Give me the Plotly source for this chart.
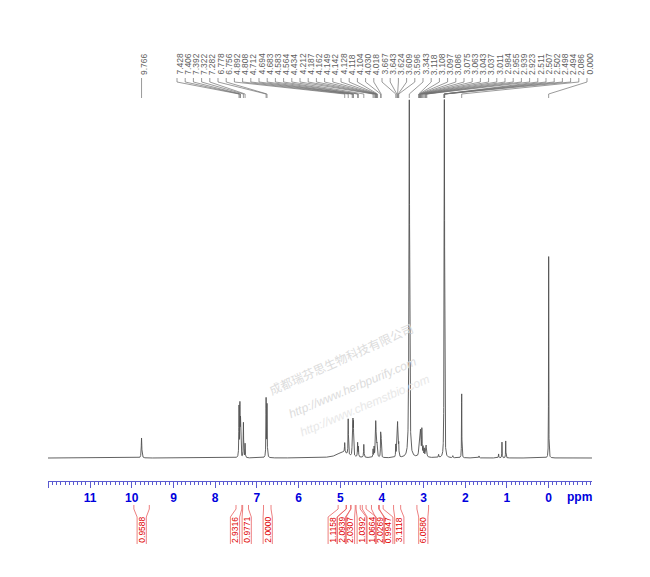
import numpy as np
import plotly.graph_objects as go

# ---------------- data ----------------
peak_labels = ["9.766", "7.428", "7.406", "7.392", "7.322", "7.282", "6.778", "6.756",
               "4.892", "4.808", "4.712", "4.694", "4.683", "4.583", "4.564", "4.434",
               "4.212", "4.187", "4.162", "4.149", "4.142", "4.128", "4.118", "4.104",
               "4.030", "4.018", "3.667", "3.643", "3.624", "3.609", "3.596", "3.343",
               "3.118", "3.108", "3.097", "3.086", "3.075", "3.063", "3.043", "3.037",
               "3.011", "2.984", "2.955", "2.939", "2.923", "2.511", "2.507", "2.502",
               "2.498", "2.494", "2.086", "0.000"]
peak_ppm = [9.766, 7.428, 7.406, 7.392, 7.322, 7.282, 6.778, 6.756,
            4.892, 4.808, 4.712, 4.694, 4.683, 4.583, 4.564, 4.434,
            4.212, 4.187, 4.162, 4.149, 4.142, 4.128, 4.118, 4.104,
            4.030, 4.018, 3.667, 3.643, 3.624, 3.609, 3.596, 3.343,
            3.118, 3.108, 3.097, 3.086, 3.075, 3.063, 3.043, 3.037,
            3.011, 2.984, 2.955, 2.939, 2.923, 2.511, 2.507, 2.502,
            2.498, 2.494, 2.086, 0.000]
peak_height = [20, 50, 50, 35, 35, 14, 58, 52,
               10, 36, 16, 32, 30, 14, 10, 13,
               8, 10, 12, 27, 20, 14, 10, 8,
               23, 18, 12, 24, 32, 20, 12, 358,
               6, 8, 10, 15, 20, 11, 19, 14,
               8, 7, 8, 10, 7, 40, 130, 228,
               130, 40, 64, 205]
peak_hwhm = [0.008, 0.005, 0.005, 0.005, 0.005, 0.005, 0.005, 0.005,
             0.006, 0.005, 0.005, 0.005, 0.005, 0.005, 0.005, 0.006,
             0.005, 0.005, 0.005, 0.005, 0.005, 0.005, 0.005, 0.005,
             0.005, 0.005, 0.005, 0.005, 0.005, 0.005, 0.005, 0.009,
             0.005, 0.005, 0.005, 0.005, 0.005, 0.005, 0.005, 0.005,
             0.005, 0.005, 0.005, 0.005, 0.005, 0.004, 0.004, 0.004,
             0.004, 0.004, 0.004, 0.003]

# unlabeled features (broad hump, small impurities)
extra_ppm = [4.95, 3.05, 2.64, 2.30, 1.67, 1.20, 1.12, 1.03]
extra_height = [6, 3, 3, 2, 2, 4, 16, 17]
extra_hwhm = [0.15, 0.08, 0.006, 0.006, 0.006, 0.005, 0.004, 0.004]

integral_values = ["0.9588", "2.9316", "0.9771", "2.0000", "1.1158", "2.0939", "2.0307",
                   "1.0392", "1.0664", "2.0269", "0.9947", "3.1118", "6.0580"]
integral_from = [9.95, 7.50, 7.34, 6.84, 5.05, 4.85, 4.74, 4.62, 4.47, 4.25, 4.06, 3.72, 3.16]
integral_to = [9.58, 7.36, 7.20, 6.66, 4.86, 4.75, 4.64, 4.52, 4.38, 4.08, 3.97, 3.55, 2.88]

tick_values = list(range(0, 13))
tick_labels = [str(v) if v < 12 else "" for v in tick_values]

# ---------------- layout geometry (screen px) ----------------
BODY = 8                      # default page margin around the figure
W, H = 650 - BODY, 577 - BODY
PX0, PX1 = 48, 592            # plot area left/right (screen px)
PY0, PY1 = 20, 481            # plot area top/bottom (screen px)
X_LEFT, X_RIGHT = 12.01, -1.04
BASE_PY = 458


def ppm_of_px(px):
    return X_LEFT + (px - PX0) / (PX1 - PX0) * (X_RIGHT - X_LEFT)


def px_of_ppm(p):
    return PX0 + (p - X_LEFT) / (X_RIGHT - X_LEFT) * (PX1 - PX0)


def y_of_py(py):
    return BASE_PY - py


def paper_x(px):
    return (px - PX0) / (PX1 - PX0)


def paper_y(py):
    return (PY1 - py) / (PY1 - PY0)


# ---------------- spectrum ----------------
x = np.arange(X_LEFT, X_RIGHT, -0.0008)
y = np.zeros_like(x)
for c, h, w in zip(peak_ppm + extra_ppm, peak_height + extra_height, peak_hwhm + extra_hwhm):
    y += h / (1.0 + ((x - c) / w) ** 2)

fig = go.Figure()
fig.add_trace(go.Scatter(x=np.round(x, 4), y=np.round(y, 2), mode="lines",
                         line=dict(color="#505050", width=0.9), hoverinfo="skip",
                         showlegend=False))

# ---------------- peak labels & leader lines ----------------
slot_px = [px_of_ppm(peak_ppm[0])] + [177 + 8.2 * i for i in range(len(peak_ppm) - 1)]
lx, ly = [], []
annotations = []
for lab, p, s in zip(peak_labels, peak_ppm, slot_px):
    lx += [ppm_of_px(s), ppm_of_px(s), p, p, None]
    ly += [y_of_py(78), y_of_py(82), y_of_py(94), y_of_py(98), None]
    annotations.append(dict(x=ppm_of_px(s + 2.5), y=y_of_py(77), xref="x", yref="y",
                            text=lab, showarrow=False, textangle=-90,
                            xanchor="center", yanchor="bottom",
                            font=dict(family="Arial", size=8.5, color="#606060")))
fig.add_trace(go.Scatter(x=lx, y=ly, mode="lines", line=dict(color="#707070", width=0.7),
                         hoverinfo="skip", showlegend=False))

# ---------------- integrals ----------------
integral_label_px = [141.7, 235, 246.7, 267.7, 332.7, 341.7, 350, 361.7, 371.7, 380, 388.3, 399.3, 423.3]
shapes = []
for val, a, b, Lx in zip(integral_values, integral_from, integral_to, integral_label_px):
    ea, eb = px_of_ppm(a), px_of_ppm(b)
    pts_l = [(ea, 505), (ea, 509), (Lx - 4.6, 517), (Lx - 4.6, 544)]
    pts_r = [(eb, 505), (eb, 509), (Lx + 4.6, 517), (Lx + 4.6, 544)]
    path = ""
    for pts in (pts_l, pts_r):
        path += "M" + " L".join(f"{paper_x(px):.5f},{paper_y(py):.5f}" for px, py in pts) + " "
    shapes.append(dict(type="path", path=path.strip(), xref="paper", yref="paper",
                       line=dict(color="#e86060", width=0.8)))
    annotations.append(dict(x=paper_x(Lx), y=paper_y(530), xref="paper", yref="paper",
                            text=val, showarrow=False, textangle=-90,
                            xanchor="center", yanchor="middle",
                            font=dict(family="Arial", size=8.5, color="#e00000")))

# ---------------- axis unit label ----------------
annotations.append(dict(x=paper_x(579), y=paper_y(497), xref="paper", yref="paper",
                        text="<b>ppm</b>", showarrow=False, xanchor="center", yanchor="middle",
                        font=dict(family="Arial", size=12, color="#0000dd")))

# ---------------- watermarks ----------------
annotations.append(dict(x=paper_x(341), y=paper_y(401), xref="paper", yref="paper",
                        text="成都瑞芬思生物科技有限公司", showarrow=False, textangle=-24,
                        font=dict(family="Noto Sans CJK SC", size=12, color="#dcdcdc")))
annotations.append(dict(x=paper_x(352), y=paper_y(424), xref="paper", yref="paper",
                        text="http://www.herbpurify.com", showarrow=False, textangle=-23,
                        font=dict(family="Arial", size=12, color="#dcdcdc", style="italic")))
annotations.append(dict(x=paper_x(364), y=paper_y(442), xref="paper", yref="paper",
                        text="http://www.chemstbio.com", showarrow=False, textangle=-23,
                        font=dict(family="Arial", size=12, color="#e8e8e8", style="italic")))

fig.update_layout(
    width=W, height=H, autosize=False,
    margin=dict(l=PX0 - BODY, r=(W + BODY) - PX1, t=PY0 - BODY, b=(H + BODY) - PY1, pad=0),
    paper_bgcolor="white", plot_bgcolor="white",
    showlegend=False,
    annotations=annotations, shapes=shapes,
    xaxis=dict(range=[X_LEFT, X_RIGHT], showgrid=False, zeroline=False,
               showline=True, linecolor="#5a5ad0", linewidth=1,
               ticks="outside", ticklen=6, tickwidth=1, tickcolor="#5a5ad0",
               tickvals=tick_values, ticktext=tick_labels,
               tickfont=dict(family="Arial", size=12, color="#0000dd", weight="bold"),
               minor=dict(dtick=0.1, tick0=0, ticks="outside", ticklen=3,
                          tickcolor="#5a5ad0", tickwidth=1, showgrid=False)),
    yaxis=dict(range=[-(PY1 - BASE_PY), BASE_PY - PY0], visible=False, fixedrange=True),
)

fig.write_html("out.html", config={"displayModeBar": False})
